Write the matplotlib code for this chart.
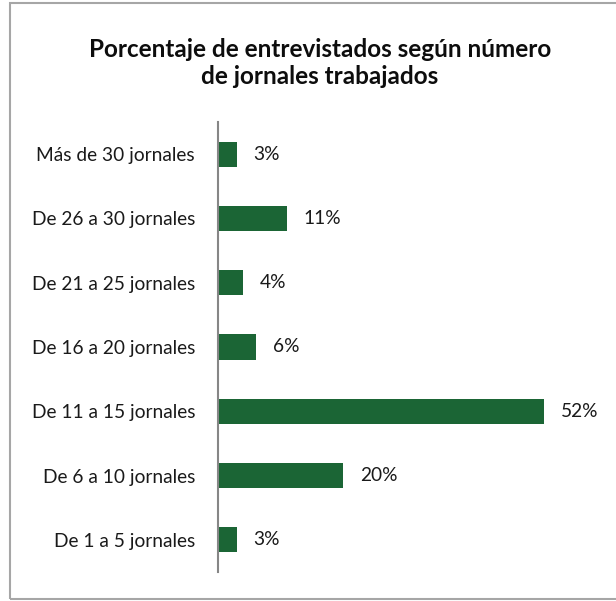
import matplotlib.pyplot as plt
from matplotlib.patches import Rectangle

categorias = ["De 1 a 5 jornales", "De 6 a 10 jornales", "De 11 a 15 jornales",
              "De 16 a 20 jornales", "De 21 a 25 jornales", "De 26 a 30 jornales",
              "Más de 30 jornales"]
porcentajes = [3, 20, 52, 6, 4, 11, 3]

plt.rcParams['font.family'] = ['Lato', 'DejaVu Sans']

fig = plt.figure(figsize=(6.16, 6.01), dpi=100)

# marco gris del gráfico
fig.patches.append(Rectangle((10 / 616, 2 / 601), 1.0, 596 / 601,
                             transform=fig.transFigure, fill=False,
                             edgecolor='#a6a6a6', linewidth=1.5))

ax = fig.add_axes([218 / 616, 29 / 601, 376 / 616, 450 / 601])
y = range(len(categorias))
ax.barh(y, porcentajes, height=0.39, color='#1b6535')
ax.set_xlim(0, 60)
ax.set_ylim(-0.5, len(categorias) - 0.5)

for sp in ['top', 'right', 'bottom']:
    ax.spines[sp].set_visible(False)
ax.spines['left'].set_color('#868686')
ax.spines['left'].set_linewidth(1.5)
ax.set_xticks([])
ax.set_yticks(list(y))
ax.set_yticklabels(categorias, fontsize=13.8, color='#1a1a1a')
ax.tick_params(axis='y', length=0, pad=16.5)

for i, v in enumerate(porcentajes):
    ax.text(v + 2.7, i, f"{v}%", va='center', ha='left', fontsize=13.8, color='#1a1a1a')

fig.text(320 / 616, 1 - 63 / 601,
         "Porcentaje de entrevistados según número\nde jornales trabajados",
         ha='center', va='center', fontsize=17.5, fontweight='bold',
         linespacing=1.2, color='#0d0d0d')

fig.savefig('out.png', dpi=100)
